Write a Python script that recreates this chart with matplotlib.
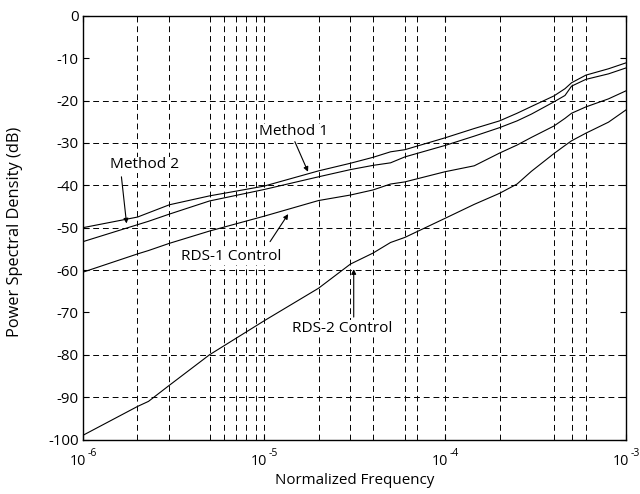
import numpy as np
import matplotlib
matplotlib.use("Agg")
from matplotlib import pyplot as plt

# normalized frequency sample points
freq = [1e-6, 2e-6, 2.3e-6, 3e-6, 5e-6, 1e-5, 2e-5, 3e-5, 4e-5, 5e-5, 6e-5,
        1e-4, 1.45e-4, 2e-4, 2.5e-4, 3e-4, 4e-4, 4.6e-4, 5e-4, 6e-4, 8e-4, 1e-3]

method1 = [-50.0, -47.5, -46.5, -44.6, -42.5, -40.2, -36.6, -34.8, -33.4, -32.1, -31.6,
           -28.8, -26.6, -24.8, -23.0, -21.4, -18.9, -17.2, -15.8, -14.0, -12.5, -11.1]
method2 = [-53.3, -49.3, -48.5, -46.8, -43.7, -41.0, -38.0, -36.3, -35.3, -34.7, -33.3,
           -30.6, -28.4, -26.4, -24.8, -23.2, -20.3, -18.8, -16.6, -15.0, -13.7, -12.3]
rds1 = [-60.5, -56.2, -55.4, -53.7, -50.8, -47.3, -43.6, -42.3, -41.1, -39.7, -39.2,
        -36.8, -35.4, -32.4, -30.5, -28.7, -26.0, -24.2, -23.0, -21.5, -19.6, -17.7]
rds2 = [-99.0, -92.2, -91.0, -87.2, -80.0, -72.0, -64.3, -58.6, -56.0, -53.5, -52.3,
        -47.8, -44.5, -41.9, -39.7, -36.7, -32.5, -30.6, -29.5, -27.7, -25.1, -22.2]

# grid positions visible in the original
xgrid = [2e-6, 3e-6, 5e-6, 6e-6, 7e-6, 8e-6, 9e-6, 1e-5,
         2e-5, 3e-5, 4e-5, 6e-5, 7e-5, 1e-4,
         2e-4, 4e-4, 5e-4, 6e-4]
ygrid = [-20, -30, -40, -50, -60, -80, -90]
yticks = [-100, -90, -80, -70, -60, -50, -40, -30, -20, -10, 0]
xticks = [1e-6, 1e-5, 1e-4, 1e-3]
xexps = ["-6", "-5", "-4", "-3"]

# labels: (text, text pos, arrow tail, arrow tip)
notes = [
    ("Method 1", (9.4e-6, -27.4), (1.48e-5, -29.7), (1.75e-5, -36.8)),
    ("Method 2", (1.41e-6, -35.2), (1.63e-6, -38.0), (1.74e-6, -49.0)),
    ("RDS-1 Control", (3.5e-6, -56.8), (1.08e-5, -53.3), (1.36e-5, -46.8)),
    ("RDS-2 Control", (1.42e-5, -73.7), (3.13e-5, -71.1), (3.13e-5, -59.8)),
]

plt.rcParams["font.family"] = ["Open Sans", "DejaVu Sans"]
plt.rcParams["font.size"] = 10.8
plt.rcParams["axes.unicode_minus"] = False

fig = plt.figure(figsize=(6.4, 4.94), dpi=100)
ax = fig.add_axes([0.1297, 0.1103, 0.8485, 0.8577])

for xv in xgrid:
    ax.axvline(xv, color="black", lw=0.7, ls=(0, (6, 4)), zorder=1)
for yv in ygrid:
    ax.axhline(yv, color="black", lw=0.7, ls=(0, (6, 4)), zorder=1)

for s in [method1, method2, rds1, rds2]:
    ax.plot(freq, s, color="black", lw=0.8, zorder=3)

for txt, tpos, tail, tip in notes:
    ax.text(tpos[0], tpos[1], txt, ha="left", va="center", fontsize=11.1, zorder=4,
            bbox=dict(facecolor="white", edgecolor="none", pad=0.5))
    ax.annotate("", xy=tip, xytext=tail,
                arrowprops=dict(arrowstyle="-|>", color="black", lw=0.8,
                                mutation_scale=7, shrinkA=0, shrinkB=0), zorder=4)

ax.set_xscale("log")
ax.set_xlim(1e-6, 1e-3)
ax.set_ylim(-100, 0)
ax.set_yticks(yticks)
ax.set_xticks(xticks)
ax.set_xticklabels([])
ax.xaxis.set_minor_locator(matplotlib.ticker.NullLocator())
ax.tick_params(direction="in", top=True, right=True, length=4, width=0.8)
ax.tick_params(axis="y", labelsize=10.8, pad=3)

# x tick labels as "10" with a small raised exponent
for xv, e in zip(xticks, xexps):
    ax.annotate("10", xy=(xv, 0), xycoords=("data", "axes fraction"),
                xytext=(2.2, -18.4), textcoords="offset points",
                ha="right", va="baseline", fontsize=10.4, annotation_clip=False)
    ax.annotate(e, xy=(xv, 0), xycoords=("data", "axes fraction"),
                xytext=(3.0, -11.9), textcoords="offset points",
                ha="left", va="baseline", fontsize=7.5, annotation_clip=False)

for sp in ax.spines.values():
    sp.set_linewidth(1.0)

ax.set_xlabel("Normalized Frequency", fontsize=10.9)
ax.set_ylabel("Power Spectral Density (dB)", fontsize=11.8)
ax.xaxis.set_label_coords(0.5, -0.08)
ax.yaxis.set_label_coords(-0.11, 0.49)

fig.savefig("out.png", dpi=100)
